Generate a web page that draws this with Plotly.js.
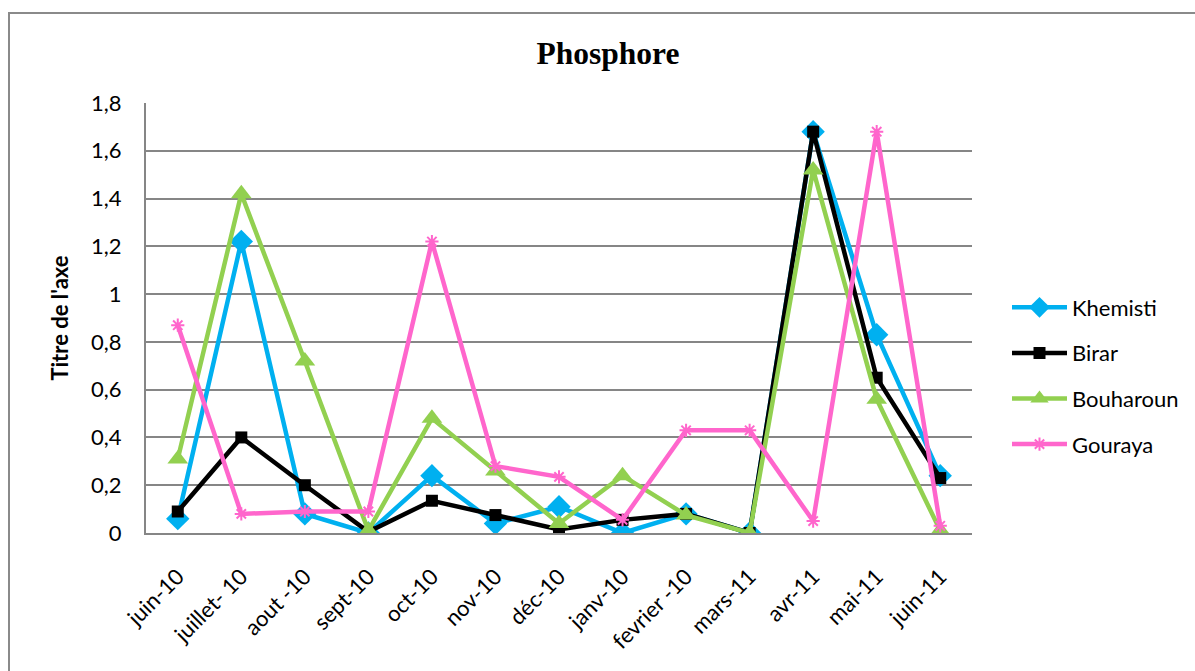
<!DOCTYPE html>
<html>
<head>
<meta charset="utf-8">
<script src="https://cdn.plot.ly/plotly-3.0.1.min.js"></script>
<style>
  html, body { margin: 0; padding: 0; background: #fff; overflow: hidden; }
  #chart { width: 1195px; height: 671px; }
</style>
</head>
<body>
<div id="chart"></div>
<script>
// Monthly phosphorus readings per station
const months = ['juin-10', 'juillet- 10', 'aout -10', 'sept-10', 'oct-10', 'nov-10', 'déc-10',
                'janv-10', 'fevrier -10', 'mars-11', 'avr-11', 'mai-11', 'juin-11'];
const khemisti  = [0.06, 1.22, 0.08, 0.00, 0.24, 0.04, 0.11, 0.00, 0.08, 0.00, 1.68, 0.83, 0.24];
const birar     = [0.09, 0.40, 0.20, 0.005, 0.135, 0.075, 0.015, 0.055, 0.08, 0.00, 1.68, 0.65, 0.23];
const bouharoun = [0.31, 1.42, 0.72, 0.01, 0.48, 0.26, 0.04, 0.24, 0.075, 0.00, 1.52, 0.56, 0.01];
const gouraya   = [0.87, 0.08, 0.09, 0.09, 1.22, 0.28, 0.235, 0.055, 0.43, 0.43, 0.05, 1.68, 0.03];
const yTicks = [0, 0.2, 0.4, 0.6, 0.8, 1, 1.2, 1.4, 1.6, 1.8];

const uiFont = 'Lato, "Open Sans", sans-serif';

function series(name, values, color, symbol, size, group) {
  return {
    type: 'scatter',
    mode: 'lines+markers',
    name: name,
    x: months,
    y: values,
    legendgroup: group,
    line: { color: color, width: 4.5 },
    marker: { symbol: symbol, size: size, color: color, line: { color: color, width: symbol.indexOf('open') >= 0 ? 2 : 0 } }
  };
}

const traces = [
  series('Khemisti', khemisti, '#00B0F0', 'diamond', 18, 'g1'),
  series('Birar', birar, '#000000', 'square', 12, 'g2'),
  series('Bouharoun', bouharoun, '#92D050', 'triangle-up', 18, 'g3'),
  series('Gouraya', gouraya, '#FF66CC', 'asterisk-open', 11, 'g4')
];

const L = 146, R = 972, T = 103, B = 533;
const pw = R - L, ph = B - T;

const layout = {
  width: 1195,
  height: 671,
  margin: { l: L, r: 1195 - R, t: T, b: 671 - B, autoexpand: false },
  paper_bgcolor: '#ffffff',
  plot_bgcolor: '#ffffff',
  separators: ', ',
  showlegend: true,
  title: {
    text: 'Phosphore',
    font: { family: '"Liberation Serif", "Times New Roman", serif', size: 31.5, color: '#000', weight: 'bold' },
    x: 608 / 1195, xref: 'container', xanchor: 'center',
    y: 1 - 53 / 671, yref: 'container', yanchor: 'middle'
  },
  xaxis: {
    type: 'category',
    range: [-0.5, 12.5],
    tickangle: -45,
    tickfont: { family: uiFont, size: 22, color: '#000' },
    showgrid: false,
    showline: true,
    linecolor: '#868686',
    linewidth: 2,
    ticks: '',
    ticklabelstandoff: 20,
    zeroline: false,
    fixedrange: true
  },
  yaxis: {
    range: [0, 1.8],
    tickvals: yTicks,
    tickfont: { family: uiFont, size: 22, color: '#000' },
    showgrid: true,
    gridcolor: '#868686',
    gridwidth: 2,
    showline: true,
    linecolor: '#868686',
    linewidth: 2,
    zeroline: false,
    ticks: '',
    ticklabelstandoff: 18,
    title: {
      text: "Titre de l'axe",
      font: { family: uiFont, size: 22, color: '#000', weight: 'bold' },
      standoff: 16
    },
    fixedrange: true
  },
  legend: {
    x: (1007 - L) / pw,
    xanchor: 'left',
    y: (B - 376) / ph,
    yanchor: 'middle',
    font: { family: uiFont, size: 22, color: '#000' },
    itemwidth: 55,
    tracegroupgap: 14,
    bgcolor: 'rgba(0,0,0,0)'
  },
  shapes: [{
    type: 'rect',
    xref: 'paper', yref: 'paper',
    x0: (9 - L) / pw, x1: 1.5,
    y0: -1, y1: (B - 13) / ph,
    line: { color: '#8a8a8a', width: 2 },
    fillcolor: 'rgba(0,0,0,0)',
    layer: 'below'
  }]
};

Plotly.newPlot('chart', traces, layout, { staticPlot: true, displayModeBar: false });
</script>
</body>
</html>
